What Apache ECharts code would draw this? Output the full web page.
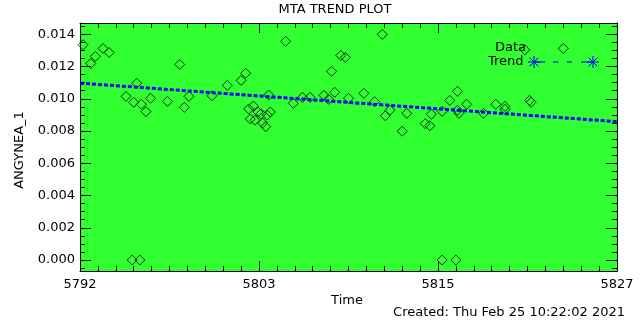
<!DOCTYPE html>
<html><head><meta charset="utf-8">
<script src="https://cdn.jsdelivr.net/npm/echarts@6/dist/echarts.min.js"></script>
<style>html,body{margin:0;padding:0;background:#fff}#c{width:640px;height:320px}</style>
</head><body><div id="c"></div>
<script>
const dataX = [5792.2,5792.7,5793.0,5793.5,5793.9,5795.0,5795.5,5795.7,5796.0,5796.3,5796.6,5795.4,5795.9,5797.7,5798.5,5798.8,5799.1,5800.6,5801.6,5802.5,5802.8,5803.0,5803.3,5803.1,5803.4,5803.6,5803.8,5803.9,5804.1,5804.2,5804.4,5804.3,5805.4,5805.9,5806.5,5807.0,5807.9,5808.2,5808.6,5808.4,5809.0,5809.3,5809.5,5811.7,5810.5,5811.2,5811.9,5812.2,5813.3,5813.0,5814.5,5814.8,5814.9,5815.6,5816.1,5816.6,5816.6,5816.7,5817.2,5818.3,5815.6,5816.5,5819.1,5819.7,5819.7,5821.3,5821.4,5821.0,5823.5];
const dataY = [0.01335,0.01219,0.01263,0.01312,0.01287,0.01015,0.00978,0.01096,0.00966,0.00920,0.01003,0,0,0.00984,0.01213,0.00947,0.01015,0.01019,0.01083,0.01114,0.01158,0.00937,0.00955,0.00875,0.00867,0.00918,0.00907,0.00850,0.00827,0.00899,0.00918,0.01023,0.01356,0.00972,0.01009,0.01009,0.01021,0.00997,0.01040,0.01170,0.01269,0.01257,0.01003,0.01399,0.01034,0.00982,0.00895,0.00929,0.00910,0.00799,0.00846,0.00833,0.00904,0.00922,0.00990,0.01046,0.00929,0.00910,0.00966,0.00910,0,0,0.00966,0.00953,0.00935,0.00990,0.00978,0.01304,0.01312];
const trendX = [5792, 5827];
const trendY = [0.01097, 0.00858];
const xMin = 5792, xMax = 5827;
const yMin = -0.00068, yMax = 0.0147;
const yStep = 0.002;
const titleText = 'MTA TREND PLOT';
const xName = 'Time';
const yName = 'ANGYNEA_1';
const createdText = 'Created: Thu Feb 25 10:22:02 2021';

const FONT = 'DejaVu Sans';
const chart = echarts.init(document.getElementById('c'), null, {renderer:'canvas'});

function xAx(pos, labels){
  return {type:'value', position:pos, min:xMin, max:xMax, interval:(xMax-xMin)/3,
    axisLine:{show:true,onZero:false,lineStyle:{color:'#000',width:1}},
    axisTick:{show:true,inside:true,length:10,lineStyle:{color:'#000',width:1}},
    minorTick:{show:true,splitNumber:10,length:5,lineStyle:{color:'#000',width:1}},
    splitLine:{show:false}, minorSplitLine:{show:false},
    axisLabel:{show:labels,margin:7,color:'#000',fontFamily:FONT,fontSize:13,
      formatter:v=>String(Math.floor(v+1e-6))}};
}
function isMajor(v){ return Math.abs(v/yStep - Math.round(v/yStep)) < 1e-6; }
function yAx(pos, labels){
  return {type:'value', position:pos, min:yMin, max:yMax, splitNumber:8, minInterval:yStep, maxInterval:yStep,
    axisLine:{show:true,onZero:false,lineStyle:{color:'#000',width:1}},
    axisTick:{show:true,inside:true,length:11,lineStyle:{color:'#000',width:1}},
    minorTick:{show:true,splitNumber:4,length:5,lineStyle:{color:'#000',width:1}},
    splitLine:{show:false}, minorSplitLine:{show:false},
    axisLabel:{show:labels,showMinLabel:false,showMaxLabel:false,margin:5,color:'#000',fontFamily:FONT,fontSize:13,
      formatter:v=>isMajor(v)?v.toFixed(3):''}};
}

function star(cx, cy){
  const r = 6, d = 4.3, s = {stroke:'#0000ff', lineWidth:1};
  return [
    {type:'line',shape:{x1:cx-r,y1:cy,x2:cx+r,y2:cy},style:s},
    {type:'line',shape:{x1:cx,y1:cy-r,x2:cx,y2:cy+r},style:s},
    {type:'line',shape:{x1:cx-d,y1:cy-d,x2:cx+d,y2:cy+d},style:s},
    {type:'line',shape:{x1:cx-d,y1:cy+d,x2:cx+d,y2:cy-d},style:s}
  ];
}

const option = {
  animation:false,
  backgroundColor:'#fff',
  grid:{show:true,backgroundColor:'#30ff30',borderWidth:0,containLabel:false,left:80,top:23,width:537,height:248},
  xAxis:[ xAx('bottom',true), xAx('top',false) ],
  yAxis:[ yAx('left',true), yAx('right',false) ],
  series:[
    {type:'scatter', xAxisIndex:0, yAxisIndex:0, symbol:'diamond', symbolSize:[10,10],
     itemStyle:{color:'rgba(0,0,0,0)', borderColor:'#000', borderWidth:1},
     data: dataX.map((x,i)=>[x, dataY[i]]), z:3},
    {type:'line', xAxisIndex:0, yAxisIndex:0, showSymbol:false, symbol:'none',
     lineStyle:{color:'#0000ff', width:3, type:[4,2]},
     data: trendX.map((x,i)=>[x, trendY[i]]), z:4},
    {type:'scatter', xAxisIndex:1, yAxisIndex:1, data:[], silent:true}
  ],
  graphic:[
    {type:'text', x:335, y:3, style:{text:titleText, fontFamily:FONT, fontSize:13, fill:'#000', align:'center', verticalAlign:'top'}},
    {type:'text', x:347, y:294, style:{text:xName, fontFamily:FONT, fontSize:13, fill:'#000', align:'center', verticalAlign:'top'}},
    {type:'text', x:625, y:306, style:{text:createdText, fontFamily:FONT, fontSize:13, fill:'#000', align:'right', verticalAlign:'top'}},
    {type:'text', x:20, y:150, rotation:Math.PI/2, style:{text:yName, fontFamily:FONT, fontSize:13, fill:'#000', align:'center', verticalAlign:'middle'}},
    {type:'text', x:495, y:48, style:{text:'Data', fontFamily:FONT, fontSize:13, fill:'#000', verticalAlign:'middle'}},
    {type:'text', x:488, y:62, style:{text:'Trend', fontFamily:FONT, fontSize:13, fill:'#000', verticalAlign:'middle'}},
    {type:'line', shape:{x1:534,y1:62,x2:545,y2:62}, style:{stroke:'#0000ff',lineWidth:1}},
    {type:'line', shape:{x1:553,y1:62,x2:558,y2:62}, style:{stroke:'#0000ff',lineWidth:1}},
    {type:'line', shape:{x1:567,y1:62,x2:572,y2:62}, style:{stroke:'#0000ff',lineWidth:1}},
    {type:'line', shape:{x1:581,y1:62,x2:593,y2:62}, style:{stroke:'#0000ff',lineWidth:1}}
  ].concat(star(534,62), star(593,62))
};
chart.setOption(option);
</script></body></html>
